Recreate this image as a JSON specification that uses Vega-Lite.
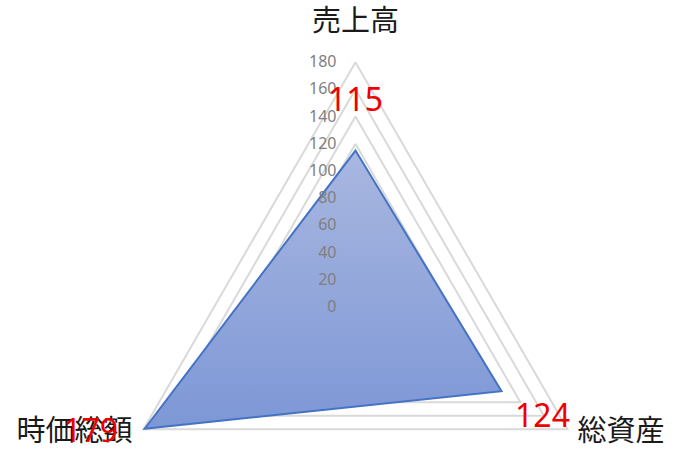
{
  "$schema": "https://vega.github.io/schema/vega-lite/v6.json",
  "width": 679,
  "height": 462,
  "autosize": {"type": "fit", "contains": "padding"},
  "padding": 0,
  "background": "white",
  "config": {"view": {"stroke": null}},
  "datasets": {
    "series": [
      {"cat": "売上高", "k": 0, "value": 115},
      {"cat": "総資産", "k": 1, "value": 124},
      {"cat": "時価総額", "k": 2, "value": 179}
    ],
    "grid": [
      {"level": 20, "k": [0, 1, 2, 3]},
      {"level": 40, "k": [0, 1, 2, 3]},
      {"level": 60, "k": [0, 1, 2, 3]},
      {"level": 80, "k": [0, 1, 2, 3]},
      {"level": 100, "k": [0, 1, 2, 3]},
      {"level": 120, "k": [0, 1, 2, 3]},
      {"level": 140, "k": [0, 1, 2, 3]},
      {"level": 160, "k": [0, 1, 2, 3]},
      {"level": 180, "k": [0, 1, 2, 3]}
    ],
    "ticks": [
      {"level": 0}, {"level": 20}, {"level": 40}, {"level": 60}, {"level": 80},
      {"level": 100}, {"level": 120}, {"level": 140}, {"level": 160}, {"level": 180}
    ],
    "cats": [
      {"cat": "売上高", "k": 0, "r": 180},
      {"cat": "総資産", "k": 1, "r": 180},
      {"cat": "時価総額", "k": 2, "r": 180}
    ]
  },
  "encoding": {
    "x": {"field": "px", "type": "quantitative", "axis": null, "scale": {"domain": [-261.4, 237.9], "nice": false, "zero": false}},
    "y": {"field": "py", "type": "quantitative", "axis": null, "scale": {"domain": [-114.0, 225.7], "nice": false, "zero": false}}
  },
  "layer": [
    {
      "data": {"name": "grid"},
      "transform": [
        {"flatten": ["k"]},
        {"calculate": "datum.level * cos(PI * (90 - 120 * datum.k) / 180)", "as": "px"},
        {"calculate": "datum.level * sin(PI * (90 - 120 * datum.k) / 180)", "as": "py"}
      ],
      "mark": {"type": "line", "stroke": "#d9d9d9", "strokeWidth": 2},
      "encoding": {
        "detail": {"field": "level", "type": "nominal"},
        "order": {"field": "k", "type": "quantitative"}
      }
    },
    {
      "data": {"name": "series"},
      "transform": [
        {"calculate": "datum.value * cos(PI * (90 - 120 * datum.k) / 180)", "as": "px"},
        {"calculate": "datum.value * sin(PI * (90 - 120 * datum.k) / 180)", "as": "py"}
      ],
      "mark": {
        "type": "line",
        "interpolate": "linear-closed",
        "stroke": "#4472c4",
        "strokeWidth": 2,
        "fill": {
          "gradient": "linear",
          "x1": 0, "y1": 0, "x2": 0, "y2": 1,
          "stops": [
            {"offset": 0, "color": "#a9b7e0"},
            {"offset": 1, "color": "#7d97d6"}
          ]
        }
      },
      "encoding": {
        "order": {"field": "k", "type": "quantitative"}
      }
    },
    {
      "data": {"name": "ticks"},
      "transform": [
        {"calculate": "0", "as": "px"},
        {"calculate": "datum.level", "as": "py"}
      ],
      "mark": {"type": "text", "align": "right", "baseline": "middle", "dx": -19, "fontSize": 16, "font": "Noto Sans", "color": "#7f7f7f"},
      "encoding": {"text": {"field": "level", "type": "quantitative"}}
    },
    {
      "data": {"name": "cats"},
      "transform": [
        {"filter": "datum.k == 0"},
        {"calculate": "datum.r * cos(PI * (90 - 120 * datum.k) / 180)", "as": "px"},
        {"calculate": "datum.r * sin(PI * (90 - 120 * datum.k) / 180)", "as": "py"}
      ],
      "mark": {"type": "text", "align": "center", "baseline": "middle", "dy": -40, "fontSize": 29, "font": "Noto Sans CJK JP", "color": "#1a1a1a"},
      "encoding": {"text": {"field": "cat", "type": "nominal"}}
    },
    {
      "data": {"name": "cats"},
      "transform": [
        {"filter": "datum.k == 1"},
        {"calculate": "datum.r * cos(PI * (90 - 120 * datum.k) / 180)", "as": "px"},
        {"calculate": "datum.r * sin(PI * (90 - 120 * datum.k) / 180)", "as": "py"}
      ],
      "mark": {"type": "text", "align": "left", "baseline": "middle", "dx": 10, "dy": 3, "fontSize": 29, "font": "Noto Sans CJK JP", "color": "#1a1a1a"},
      "encoding": {"text": {"field": "cat", "type": "nominal"}}
    },
    {
      "data": {"name": "cats"},
      "transform": [
        {"filter": "datum.k == 2"},
        {"calculate": "datum.r * cos(PI * (90 - 120 * datum.k) / 180)", "as": "px"},
        {"calculate": "datum.r * sin(PI * (90 - 120 * datum.k) / 180)", "as": "py"}
      ],
      "mark": {"type": "text", "align": "right", "baseline": "middle", "dx": -11, "dy": 3, "fontSize": 29, "font": "Noto Sans CJK JP", "color": "#1a1a1a"},
      "encoding": {"text": {"field": "cat", "type": "nominal"}}
    },
    {
      "data": {"name": "series"},
      "transform": [
        {"filter": "datum.k == 0"},
        {"calculate": "datum.value * cos(PI * (90 - 120 * datum.k) / 180)", "as": "px"},
        {"calculate": "datum.value * sin(PI * (90 - 120 * datum.k) / 180)", "as": "py"}
      ],
      "mark": {"type": "text", "align": "center", "baseline": "middle", "dy": -50, "fontSize": 32, "font": "Noto Sans", "color": "#ee0000"},
      "encoding": {"text": {"field": "value", "type": "quantitative"}}
    },
    {
      "data": {"name": "series"},
      "transform": [
        {"filter": "datum.k == 1"},
        {"calculate": "datum.value * cos(PI * (90 - 120 * datum.k) / 180)", "as": "px"},
        {"calculate": "datum.value * sin(PI * (90 - 120 * datum.k) / 180)", "as": "py"}
      ],
      "mark": {"type": "text", "align": "center", "baseline": "middle", "dx": 41, "dy": 26, "fontSize": 32, "font": "Noto Sans", "color": "#ee0000"},
      "encoding": {"text": {"field": "value", "type": "quantitative"}}
    },
    {
      "data": {"name": "series"},
      "transform": [
        {"filter": "datum.k == 2"},
        {"calculate": "datum.value * cos(PI * (90 - 120 * datum.k) / 180)", "as": "px"},
        {"calculate": "datum.value * sin(PI * (90 - 120 * datum.k) / 180)", "as": "py"}
      ],
      "mark": {"type": "text", "align": "center", "baseline": "middle", "dx": -54, "dy": 3, "fontSize": 32, "font": "Noto Sans", "color": "#ee0000"},
      "encoding": {"text": {"field": "value", "type": "quantitative"}}
    }
  ]
}
